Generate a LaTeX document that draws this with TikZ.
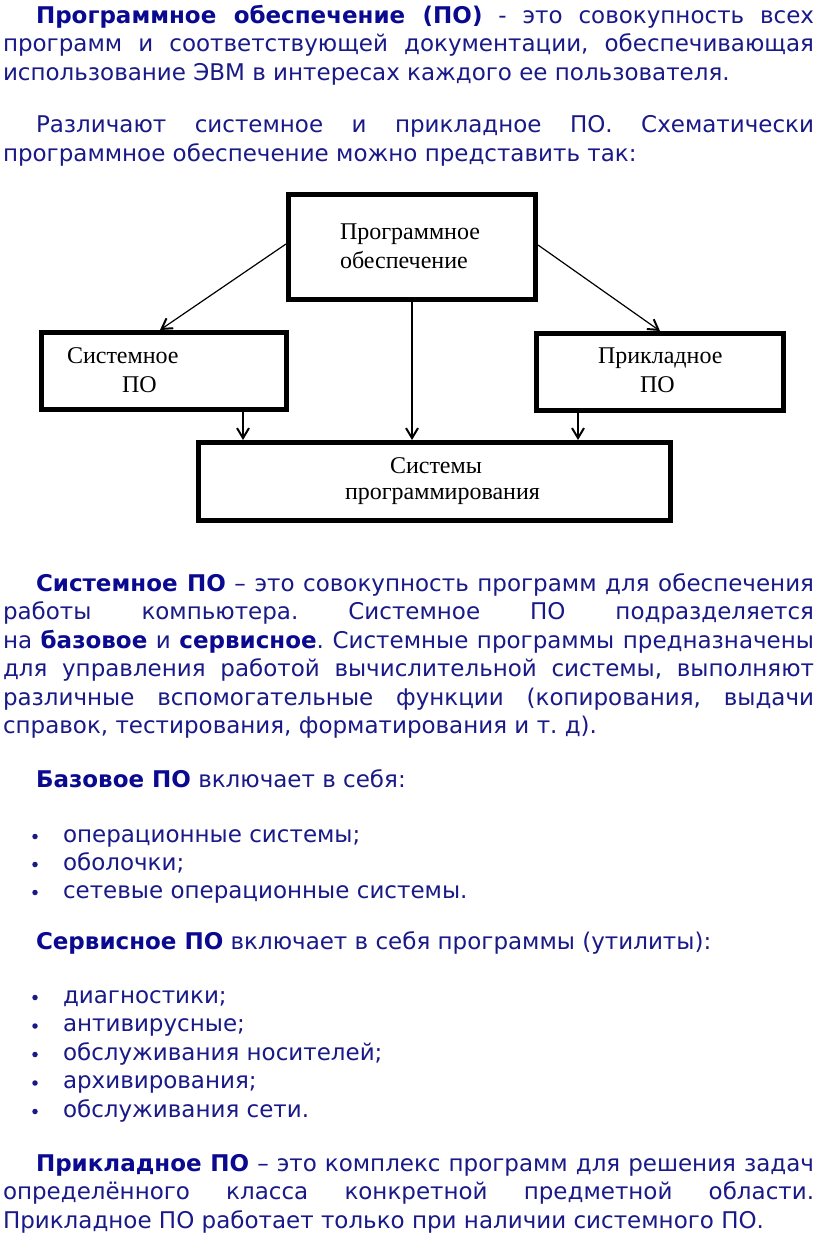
\documentclass[tikz,border=0pt]{standalone}
\usepackage{fontspec}
\setmainfont{DejaVu Sans}
\newfontfamily\diagfont{Liberation Serif}
\usetikzlibrary{arrows.meta,calc}
\definecolor{navy}{RGB}{25,25,135}
\definecolor{navyb}{RGB}{10,10,145}
\newcommand{\hb}[1]{\textbf{\color{navyb}#1}}
\frenchspacing
\begin{document}
\begin{tikzpicture}[x=1pt,y=-1pt,
  txt/.style={anchor=base west, inner sep=0pt, outer sep=0pt, text=navy, font=\fontsize{23}{27}\selectfont},
  bul/.style={circle, fill=navy, inner sep=0pt, minimum size=5.5pt},
  box/.style={draw=black, line width=5pt, inner sep=0pt},
  lbl/.style={anchor=base west, inner sep=0pt, outer sep=0pt, font=\diagfont\fontsize{24}{27}\selectfont},
  conn/.style={draw=black, line width=1.2pt, -{Straight Barb[length=10pt,width=12pt,line width=2pt]}}]
\fill[white] (0,0) rectangle (816,1260);
\useasboundingbox (0,0) rectangle (816,1260);

% paragraph 1
\node[txt] (p1a) at (36,23.5) {\makebox[778pt][s]{\hb{Программное обеспечение (ПО)} - это совокупность всех}};
\node[txt] (p1b) at (3,52) {\makebox[811pt][s]{программ и соответствующей документации, обеспечивающая}};
\node[txt] (p1c) at (3,81) {использование ЭВМ в интересах каждого ее пользователя.};
% paragraph 2
\node[txt] (p2a) at (36,133) {\makebox[778pt][s]{Различают системное и прикладное ПО. Схематически}};
\node[txt] (p2b) at (3,161.5) {программное обеспечение можно представить так:};

% diagram
\node[box, minimum width=247pt, minimum height=105pt] (top) at (412,247) {};
\node[box, minimum width=245pt, minimum height=77pt] (sys) at (164,371) {};
\node[box, minimum width=247pt, minimum height=77pt] (app) at (660,372) {};
\node[box, minimum width=472pt, minimum height=78pt] (bot) at (434.5,481.5) {};

\node[lbl] (t1) at (340,239) {Программное};
\node[lbl] (t2) at (340,268) {обеспечение};
\node[lbl] (s1) at (67,363) {Системное};
\node[lbl] (s2) at (122,392) {ПО};
\node[lbl] (a1) at (598,363) {Прикладное};
\node[lbl] (a2) at (640,392) {ПО};
\node[lbl] (b1) at (390,473) {Системы};
\node[lbl] (b2) at (345,499) {программирования};

\draw[conn] ([yshift=3pt]top.west) -- ([xshift=-4pt]sys.north);
\draw[conn] ([yshift=2pt]top.east) -- (app.north);
\draw[conn] (top.south) -- (top.south |- bot.north);
\coordinate (sv) at ([xshift=-46pt]sys.south east);
\coordinate (av) at ([xshift=44pt]app.south west);
\draw[conn] (sv) -- (sv |- bot.north);
\draw[conn] (av) -- (av |- bot.north);

% paragraph 3
\node[txt] (p3a) at (36,591) {\makebox[778pt][s]{\hb{Системное ПО} – это совокупность программ для обеспечения}};
\node[txt] (p3b) at (3,619.5) {\makebox[811pt][s]{работы компьютера. Системное ПО подразделяется}};
\node[txt] (p3c) at (3,648) {\makebox[811pt][s]{на \hb{базовое} и \hb{сервисное}. Системные программы предназначены}};
\node[txt] (p3d) at (3,676.5) {\makebox[811pt][s]{для управления работой вычислительной системы, выполняют}};
\node[txt] (p3e) at (3,705) {\makebox[811pt][s]{различные вспомогательные функции (копирования, выдачи}};
\node[txt] (p3f) at (3,733.5) {справок, тестирования, форматирования и т. д).};

% base software
\node[txt] (p4) at (36,787) {\hb{Базовое ПО} включает в себя:};
\foreach \y/\t [count=\i] in {842/{операционные системы;},870/{оболочки;},898/{сетевые операционные системы.}}{
  \node[bul] (bb\i) at (35,\y-5.5) {};
  \node[txt] (bi\i) at (63,\y) {\t};
}

% service software
\node[txt] (p5) at (36,949) {\hb{Сервисное ПО} включает в себя программы (утилиты):};
\foreach \y/\t [count=\i] in {1003/{диагностики;},1031.5/{антивирусные;},1060/{обслуживания носителей;},1088.5/{архивирования;},1117/{обслуживания сети.}}{
  \node[bul] (sb\i) at (35,\y-5.5) {};
  \node[txt] (si\i) at (63,\y) {\t};
}

% application software
\node[txt] (p6a) at (36,1171) {\makebox[778pt][s]{\hb{Прикладное ПО} – это комплекс программ для решения задач}};
\node[txt] (p6b) at (3,1199.5) {\makebox[811pt][s]{определённого класса конкретной предметной области.}};
\node[txt] (p6c) at (3,1228) {Прикладное ПО работает только при наличии системного ПО.};
\end{tikzpicture}
\end{document}
